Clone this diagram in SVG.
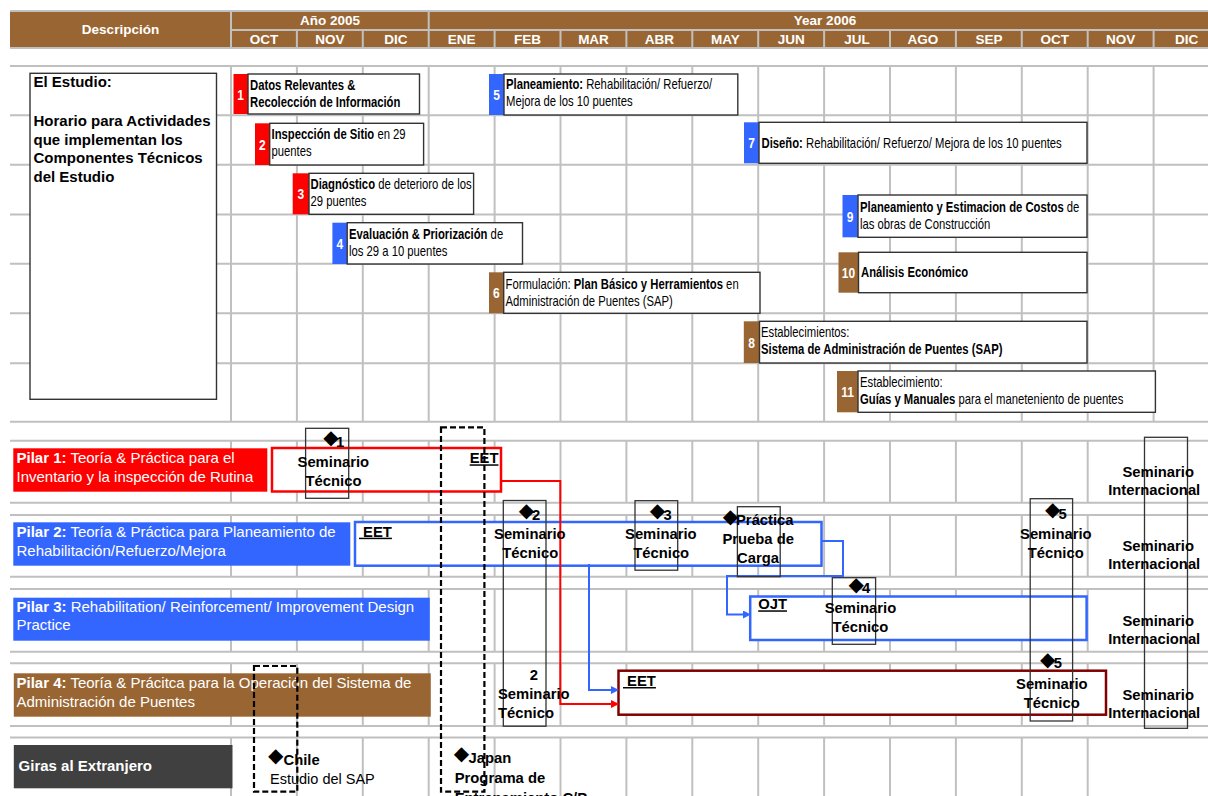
<svg xmlns="http://www.w3.org/2000/svg" width="1208" height="796" viewBox="0 0 1208 796">
<style>
.hd{font:bold 13.5px 'Liberation Sans',Arial,sans-serif;fill:#fff;text-anchor:middle}
.brown{fill:#996633}
.grid{stroke:#c0c0c0;stroke-width:2;fill:none}
.act{font-family:'Liberation Sans',Arial,sans-serif;font-size:14.2px;fill:#000}
.b{font-weight:bold}
.box{fill:#fff;stroke:#333;stroke-width:1.4}
.num{font-family:'Liberation Sans',Arial,sans-serif;font-weight:bold;font-size:15px;fill:#fff;text-anchor:middle}
.est{font-family:'Liberation Sans',Arial,sans-serif;font-size:15px;font-weight:bold;fill:#000}
.pil{font-family:'Liberation Sans',Arial,sans-serif;font-size:15px;fill:#fff}
.sem{font-family:'Liberation Sans',Arial,sans-serif;font-size:14.8px;font-weight:bold;fill:#000}
.reg{font-family:'Liberation Sans',Arial,sans-serif;font-size:14.5px;fill:#000}
.mid{text-anchor:middle}
.dia{font-family:'DejaVu Sans',sans-serif;font-size:20px;fill:#000;text-anchor:middle}
.fr{fill:none;stroke:#333;stroke-width:1.3}
.dash{fill:none;stroke:#000;stroke-width:2.2;stroke-dasharray:6 3}
.u{text-decoration:underline}
.red{fill:#ff0000}
.blue{fill:#3366ff}
</style>
<defs>
  <pattern id="cols" x="230" y="0" width="65.9" height="10" patternUnits="userSpaceOnUse">
    <rect x="0" y="0" width="2" height="10" fill="#c0c0c0"/>
  </pattern>
  <marker id="ar" markerUnits="userSpaceOnUse" markerWidth="8" markerHeight="8" refX="0" refY="4" orient="auto">
    <path d="M0,0 L8,4 L0,8 z" fill="#ff0000"/>
  </marker>
  <marker id="ab" markerUnits="userSpaceOnUse" markerWidth="8" markerHeight="8" refX="0" refY="4" orient="auto">
    <path d="M0,0 L8,4 L0,8 z" fill="#3366ff"/>
  </marker>
</defs>

<rect width="1208" height="796" fill="#fff"/>

<!-- header -->
<g id="header">
  <rect x="10" y="10" width="1198" height="39" fill="#c0c0c0"/>
  <rect class="brown" x="10" y="12" width="220" height="35"/>
  <rect class="brown" x="232" y="12" width="195.7" height="17"/>
  <rect class="brown" x="429.7" y="12" width="778.3" height="17"/>
  <g class="brown">
    <rect x="232" y="31" width="63.9" height="16"/>
    <rect x="297.9" y="31" width="63.9" height="16"/>
    <rect x="363.8" y="31" width="63.9" height="16"/>
    <rect x="429.7" y="31" width="63.9" height="16"/>
    <rect x="495.6" y="31" width="63.9" height="16"/>
    <rect x="561.5" y="31" width="63.9" height="16"/>
    <rect x="627.4" y="31" width="63.9" height="16"/>
    <rect x="693.3" y="31" width="63.9" height="16"/>
    <rect x="759.2" y="31" width="63.9" height="16"/>
    <rect x="825.1" y="31" width="63.9" height="16"/>
    <rect x="891" y="31" width="63.9" height="16"/>
    <rect x="956.9" y="31" width="63.9" height="16"/>
    <rect x="1022.8" y="31" width="63.9" height="16"/>
    <rect x="1088.7" y="31" width="63.9" height="16"/>
    <rect x="1154.6" y="31" width="63.9" height="16"/>
  </g>
  <text class="hd" x="120.5" y="33.5">Descripción</text>
  <text class="hd" x="330" y="24.5">Año 2005</text>
  <text class="hd" x="825" y="24.5">Year 2006</text>
  <g class="hd">
    <text x="264" y="43.5">OCT</text>
    <text x="329.9" y="43.5">NOV</text>
    <text x="395.8" y="43.5">DIC</text>
    <text x="461.7" y="43.5">ENE</text>
    <text x="527.6" y="43.5">FEB</text>
    <text x="593.5" y="43.5">MAR</text>
    <text x="659.4" y="43.5">ABR</text>
    <text x="725.3" y="43.5">MAY</text>
    <text x="791.2" y="43.5">JUN</text>
    <text x="857.1" y="43.5">JUL</text>
    <text x="923" y="43.5">AGO</text>
    <text x="988.9" y="43.5">SEP</text>
    <text x="1054.8" y="43.5">OCT</text>
    <text x="1120.7" y="43.5">NOV</text>
    <text x="1186.6" y="43.5">DIC</text>
  </g>
</g>

<!-- grid -->
<g id="grid">
  <rect x="230" y="66" width="925" height="355.7" fill="url(#cols)"/>
  <rect x="230" y="440.7" width="859" height="62" fill="url(#cols)"/>
  <rect x="230" y="515" width="859" height="61.7" fill="url(#cols)"/>
  <rect x="230" y="589" width="859" height="62.7" fill="url(#cols)"/>
  <rect x="230" y="663.3" width="859" height="62.7" fill="url(#cols)"/>
  <rect x="230" y="737.5" width="859" height="60" fill="url(#cols)"/>
  <path class="grid" d="M10 66H1208M10 115.3H1208M10 164.8H1208M10 214.5H1208M10 263.8H1208M10 313.3H1208M10 363.3H1208M10 421.7H1208M10 440.7H1208M10 502.7H1208M10 515H1208M10 576.7H1208M10 589H1208M10 651.7H1208M10 663.3H1208M10 726H1208M10 737.5H1208"/>
</g>

<!-- study description -->
<g id="estudio">
  <rect x="30" y="73.3" width="186.5" height="326" fill="#fff" stroke="#333" stroke-width="1.4"/>
  <text class="est" x="33.5" y="87.3">El Estudio:</text>
  <text class="est" x="33.5" y="125.7">Horario para Actividades</text>
  <text class="est" x="33.5" y="144.5">que implementan los</text>
  <text class="est" x="33.5" y="163.3">Componentes Técnicos</text>
  <text class="est" x="33.5" y="182">del Estudio</text>
</g>

<!-- activities (condensed lettering) -->
<g id="act1">
  <rect class="red" x="233.5" y="74" width="14.5" height="40"/>
  <rect class="box" x="248" y="74" width="171.5" height="40"/>
  <text class="num" transform="translate(240.7 99.5) scale(.8 1)">1</text>
  <text class="act b" transform="translate(250 89.5) scale(.795 1)">Datos Relevantes &amp;</text>
  <text class="act b" transform="translate(250 106.5) scale(.795 1)">Recolección de Información</text>
</g>
<g id="act2">
  <rect class="red" x="255" y="123.3" width="14.7" height="41.7"/>
  <rect class="box" x="269.7" y="123.3" width="153.9" height="41.7"/>
  <text class="num" transform="translate(262.3 149.5) scale(.8 1)">2</text>
  <text class="act" transform="translate(271.5 139.3) scale(.795 1)"><tspan class="b">Inspección de Sitio</tspan> en 29</text>
  <text class="act" transform="translate(271.5 156.3) scale(.795 1)">puentes</text>
</g>
<g id="act3">
  <rect class="red" x="292.7" y="173.3" width="16.3" height="41"/>
  <rect class="box" x="309" y="173.3" width="164.6" height="41"/>
  <text class="num" transform="translate(300.8 199) scale(.8 1)">3</text>
  <text class="act" transform="translate(310.5 189.3) scale(.795 1)"><tspan class="b">Diagnóstico</tspan> de deterioro de los</text>
  <text class="act" transform="translate(310.5 206.3) scale(.795 1)">29 puentes</text>
</g>
<g id="act4">
  <rect class="blue" x="332.4" y="222.7" width="14.8" height="41.3"/>
  <rect class="box" x="347.2" y="222.7" width="175.3" height="41.3"/>
  <text class="num" transform="translate(339.8 248.5) scale(.8 1)">4</text>
  <text class="act" transform="translate(349 238.7) scale(.795 1)"><tspan class="b">Evaluación &amp; Priorización</tspan> de</text>
  <text class="act" transform="translate(349 255.7) scale(.795 1)">los 29 a 10 puentes</text>
</g>
<g id="act5">
  <rect class="blue" x="489" y="74" width="15" height="41"/>
  <rect class="box" x="504" y="74" width="233.8" height="41"/>
  <text class="num" transform="translate(496.5 100) scale(.8 1)">5</text>
  <text class="act" transform="translate(506 89) scale(.795 1)"><tspan class="b">Planeamiento:</tspan> Rehabilitación/ Refuerzo/</text>
  <text class="act" transform="translate(506 106) scale(.795 1)">Mejora de los 10 puentes</text>
</g>
<g id="act6">
  <rect class="brown" x="489" y="272.3" width="14.7" height="41"/>
  <rect class="box" x="503.7" y="272.3" width="256.3" height="41"/>
  <text class="num" transform="translate(496.3 298) scale(.8 1)">6</text>
  <text class="act" transform="translate(505.5 288.8) scale(.795 1)">Formulación: <tspan class="b">Plan Básico y Herramientos</tspan> en</text>
  <text class="act" transform="translate(505.5 305.8) scale(.795 1)">Administración de Puentes (SAP)</text>
</g>
<g id="act7">
  <rect class="blue" x="744" y="122.3" width="15" height="41"/>
  <rect class="box" x="759" y="122.3" width="328" height="41"/>
  <text class="num" transform="translate(751.5 148.3) scale(.8 1)">7</text>
  <text class="act" transform="translate(761.5 147.5) scale(.795 1)"><tspan class="b">Diseño:</tspan> Rehabilitación/ Refuerzo/ Mejora de los 10 puentes</text>
</g>
<g id="act8">
  <rect class="brown" x="743.8" y="321.3" width="15.7" height="41.7"/>
  <rect class="box" x="759.5" y="321.3" width="327.5" height="41.7"/>
  <text class="num" transform="translate(751.6 347.5) scale(.8 1)">8</text>
  <text class="act" transform="translate(761 337.3) scale(.795 1)">Establecimientos:</text>
  <text class="act b" transform="translate(761 354.3) scale(.795 1)">Sistema de Administración de Puentes (SAP)</text>
</g>
<g id="act9">
  <rect class="blue" x="842.5" y="195" width="15.5" height="42.3"/>
  <rect class="box" x="858" y="195" width="229" height="42.3"/>
  <text class="num" transform="translate(850.2 221.5) scale(.8 1)">9</text>
  <text class="act" transform="translate(860 212) scale(.795 1)"><tspan class="b">Planeamiento y Estimacion de Costos</tspan> de</text>
  <text class="act" transform="translate(860 229) scale(.795 1)">las obras de Construcción</text>
</g>
<g id="act10">
  <rect class="brown" x="838.5" y="252.3" width="20" height="40.4"/>
  <rect class="box" x="858.5" y="252.3" width="228.5" height="40.4"/>
  <text class="num" transform="translate(848.5 278) scale(.8 1)">10</text>
  <text class="act b" transform="translate(861 276.8) scale(.795 1)">Análisis Económico</text>
</g>
<g id="act11">
  <rect class="brown" x="837" y="371" width="21" height="41.3"/>
  <rect class="box" x="858" y="371" width="297.4" height="41.3"/>
  <text class="num" transform="translate(847.5 397) scale(.8 1)">11</text>
  <text class="act" transform="translate(860 386.8) scale(.795 1)">Establecimiento:</text>
  <text class="act" transform="translate(860 403.5) scale(.795 1)"><tspan class="b">Guías y Manuales</tspan> para el maneteniento de puentes</text>
</g>

<!-- pillar labels -->
<g id="pilar1">
  <rect class="red" x="13.3" y="448.3" width="254" height="43.4"/>
  <text class="pil" x="16.5" y="462.7"><tspan class="b">Pilar 1:</tspan> Teoría &amp; Práctica para el</text>
  <text class="pil" x="16.5" y="481.7">Inventario y la inspección de Rutina</text>
</g>
<g id="pilar2">
  <rect class="blue" x="13.3" y="522.3" width="337" height="43.4"/>
  <text class="pil" x="16.5" y="537.3"><tspan class="b">Pilar 2:</tspan> Teoría &amp; Práctica para Planeamiento de</text>
  <text class="pil" x="16.5" y="556">Rehabilitación/Refuerzo/Mejora</text>
</g>
<g id="pilar3">
  <rect class="blue" x="13.3" y="597.7" width="416.5" height="43"/>
  <text class="pil" x="16.5" y="611.7"><tspan class="b">Pilar 3:</tspan> Rehabilitation/ Reinforcement/ Improvement Design</text>
  <text class="pil" x="16.5" y="630">Practice</text>
</g>
<g id="pilar4">
  <rect class="brown" x="13.8" y="673.3" width="417" height="43.4"/>
  <text class="pil" x="16.5" y="687.5"><tspan class="b">Pilar 4:</tspan> Teoría &amp; Prácitca para la Operación del Sistema de</text>
  <text class="pil" x="16.5" y="706.5">Administración de Puentes</text>
</g>
<g id="giras">
  <rect x="13.8" y="745" width="218.7" height="43.3" fill="#404040"/>
  <text class="pil b" x="18.6" y="770.5">Giras al Extranjero</text>
</g>

<!-- pillar timelines -->
<g id="bar-p1">
  <rect x="272" y="448" width="229" height="43.5" fill="#fff" stroke="#ff0000" stroke-width="2.5"/>
  <text class="sem u" x="469.7" y="463.3">EET</text>
</g>
<g id="bar-p2">
  <rect x="355" y="522" width="466.5" height="43.7" fill="#fff" stroke="#3366ff" stroke-width="2.5"/>
  <text class="sem u" x="359" y="536.7">&#160;EET</text>
</g>
<g id="bar-p3">
  <rect x="750.2" y="596.5" width="336.4" height="43.5" fill="#fff" stroke="#3366ff" stroke-width="2.5"/>
  <text class="sem u" x="758.2" y="609.3">OJT</text>
</g>
<g id="bar-p4">
  <rect x="618.5" y="670.7" width="487.5" height="44" fill="#fff" stroke="#800000" stroke-width="2.5"/>
  <text class="sem u" x="623" y="686">&#160;EET</text>
</g>

<!-- connectors -->
<g id="connectors" fill="none" stroke-width="2">
  <path d="M501 481H560.3V704H611" stroke="#ff0000" marker-end="url(#ar)"/>
  <path d="M589 564V690H611" stroke="#3366ff" marker-end="url(#ab)"/>
  <path d="M821.5 541H843V576H727V614.5H743" stroke="#3366ff" marker-end="url(#ab)"/>
</g>

<!-- seminars and events -->
<g id="sem1">
  <rect class="fr" x="305.6" y="428.3" width="43.1" height="70"/>
  <text class="dia" x="331" y="443.5">◆</text>
  <text class="sem" x="336" y="446.5">1</text>
  <text class="sem mid" x="333.3" y="467">Seminario</text>
  <text class="sem mid" x="333.5" y="486">Técnico</text>
</g>
<g id="sem2">
  <rect class="fr" x="503.3" y="500.5" width="42.7" height="225.7"/>
  <text class="dia" x="526.5" y="516.5">◆</text>
  <text class="sem" x="532" y="520">2</text>
  <text class="sem mid" x="529.8" y="539.3">Seminario</text>
  <text class="sem mid" x="530.3" y="558.3">Técnico</text>
  <text class="sem mid" x="533.8" y="680">2</text>
  <text class="sem" x="498" y="699.3">Seminario</text>
  <text class="sem" x="498" y="718.3">Técnico</text>
</g>
<g id="sem3">
  <rect class="fr" x="635" y="500.7" width="42.7" height="69.5"/>
  <text class="dia" x="657.5" y="516.5">◆</text>
  <text class="sem" x="663.5" y="520">3</text>
  <text class="sem mid" x="660.8" y="539.3">Seminario</text>
  <text class="sem mid" x="661.2" y="558.3">Técnico</text>
</g>
<g id="prueba">
  <rect class="fr" x="737.4" y="506.7" width="42.8" height="70"/>
  <text class="dia" x="730.5" y="523">◆</text>
  <text class="sem" x="736" y="525">Práctica</text>
  <text class="sem mid" x="758.2" y="544">Prueba de</text>
  <text class="sem mid" x="758" y="563.3">Carga</text>
</g>
<g id="sem4">
  <rect class="fr" x="832.3" y="577.7" width="43.3" height="66.6"/>
  <text class="dia" x="856.3" y="590.5">◆</text>
  <text class="sem" x="862" y="593.3">4</text>
  <text class="sem mid" x="860.4" y="613.3">Seminario</text>
  <text class="sem mid" x="860.4" y="632.3">Técnico</text>
</g>
<g id="sem5">
  <rect class="fr" x="1030.2" y="498.7" width="42.4" height="222.3"/>
  <text class="dia" x="1052.6" y="516">◆</text>
  <text class="sem" x="1058.5" y="519.3">5</text>
  <text class="sem mid" x="1055.8" y="539">Seminario</text>
  <text class="sem mid" x="1055.8" y="558">Técnico</text>
  <text class="dia" x="1047.8" y="666">◆</text>
  <text class="sem" x="1053.8" y="668.3">5</text>
  <text class="sem mid" x="1051.8" y="689.3">Seminario</text>
  <text class="sem mid" x="1051.8" y="708.3">Técnico</text>
</g>
<g id="sem-int">
  <rect class="fr" x="1144.5" y="437.3" width="43" height="291"/>
  <text class="sem mid" x="1158.2" y="476.7">Seminario</text>
  <text class="sem mid" x="1154.2" y="495.3">Internacional</text>
  <text class="sem mid" x="1158.2" y="551">Seminario</text>
  <text class="sem mid" x="1154.2" y="569.3">Internacional</text>
  <text class="sem mid" x="1158.2" y="625.7">Seminario</text>
  <text class="sem mid" x="1154.2" y="644">Internacional</text>
  <text class="sem mid" x="1158.2" y="700">Seminario</text>
  <text class="sem mid" x="1154.2" y="718.3">Internacional</text>
</g>

<!-- study tours -->
<g id="tour-chile">
  <rect class="dash" x="254" y="666" width="43.3" height="125.7"/>
  <text class="dia" x="275.6" y="761.5">◆</text>
  <text class="sem" x="283.5" y="765">Chile</text>
  <text class="reg" x="270" y="784">Estudio del SAP</text>
</g>
<g id="tour-japan">
  <rect class="dash" x="441" y="427.3" width="43.4" height="364.4"/>
  <text class="dia" x="461.4" y="759.5">◆</text>
  <text class="sem" x="468.5" y="762.7">Japan</text>
  <text class="sem" x="454.7" y="783.3">Programa de</text>
  <text class="sem" x="454.7" y="803">Entrenamiento C/P</text>
</g>
</svg>
